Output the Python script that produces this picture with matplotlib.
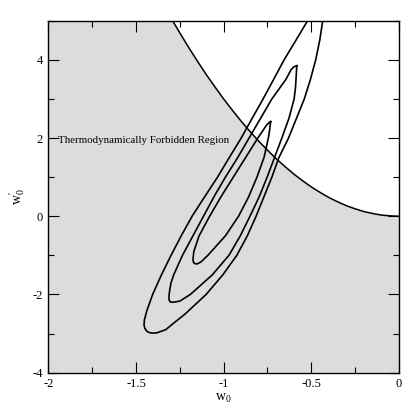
import numpy as np
import matplotlib
matplotlib.use('Agg')
import matplotlib.pyplot as plt
from matplotlib.ticker import MultipleLocator

# forbidden-region boundary
bound_x = [-1.35, -1.3, -1.25, -1.2, -1.15, -1.1, -1.05, -1.0, -0.95, -0.9, -0.85, -0.8, -0.75, -0.7,
           -0.65, -0.6, -0.55, -0.5, -0.45, -0.4, -0.35, -0.3, -0.25, -0.2, -0.15, -0.1, -0.05, 0.0]
bound_y = [5.47, 5.07, 4.69, 4.32, 3.97, 3.63, 3.31, 3.0, 2.71, 2.43, 2.17, 1.92, 1.69, 1.47,
           1.27, 1.08, 0.91, 0.75, 0.61, 0.48, 0.37, 0.27, 0.19, 0.12, 0.07, 0.03, 0.01, 0.0]

# confidence contours (closed)
outer_x = [-0.485, -0.521, -0.588, -0.655, -0.715, -0.775, -0.838, -0.900, -0.968, -1.035, -1.108,
           -1.180, -1.242, -1.300, -1.355, -1.405, -1.437, -1.452, -1.454, -1.450, -1.442, -1.432,
           -1.41, -1.38, -1.33, -1.287, -1.22, -1.10, -1.005, -0.925, -0.865, -0.815, -0.77,
           -0.725, -0.685, -0.63, -0.585, -0.54, -0.505, -0.475, -0.452, -0.435, -0.425]
outer_y = [5.3, 5.0, 4.5, 4.0, 3.5, 3.0, 2.5, 2.0, 1.5, 1.0, 0.5,
           0.0, -0.5, -1.0, -1.5, -2.0, -2.4, -2.65, -2.78, -2.86, -2.92, -2.96,
           -2.99, -2.98, -2.9, -2.74, -2.5, -2.0, -1.5, -1.0, -0.5, 0.0, 0.5,
           1.0, 1.5, 2.0, 2.5, 3.0, 3.5, 4.0, 4.5, 5.0, 5.3]

mid_x = [-0.583, -0.600, -0.615, -0.645, -0.725, -0.79, -0.855, -0.92, -0.99, -1.055, -1.115,
         -1.175, -1.235, -1.285, -1.300, -1.308, -1.312, -1.311, -1.305, -1.29, -1.25,
         -1.19, -1.065, -0.97, -0.905, -0.85, -0.797, -0.752, -0.71, -0.668, -0.628, -0.598,
         -0.590, -0.586, -0.583]
mid_y = [3.85, 3.82, 3.75, 3.5, 3.0, 2.5, 2.0, 1.5, 1.0, 0.5, 0.0,
         -0.5, -1.0, -1.5, -1.7, -1.9, -2.05, -2.14, -2.19, -2.2, -2.17,
         -2.0, -1.5, -1.0, -0.5, 0.0, 0.5, 1.0, 1.5, 2.0, 2.5, 3.0,
         3.3, 3.6, 3.85]

inner_x = [-0.732, -0.745, -0.76, -0.805, -0.875, -0.945, -1.015, -1.08, -1.14, -1.17, -1.175,
           -1.172, -1.165, -1.152, -1.13, -1.09, -0.99, -0.915, -0.857, -0.81, -0.77, -0.745,
           -0.738, -0.732]
inner_y = [2.42, 2.38, 2.3, 2.0, 1.5, 1.0, 0.5, 0.0, -0.5, -0.9, -1.1,
           -1.18, -1.21, -1.22, -1.17, -1.0, -0.5, 0.0, 0.5, 1.0, 1.5, 2.0,
           2.2, 2.42]

x_ticks = [-2, -1.5, -1, -0.5, 0]
x_labels = ['-2', '-1.5', '-1', '-0.5', '0']
y_ticks = [-4, -2, 0, 2, 4]
y_labels = ['-4', '-2', '0', '2', '4']

plt.rcParams['font.family'] = ['Liberation Serif', 'DejaVu Serif']
plt.rcParams['mathtext.fontset'] = 'custom'
plt.rcParams['mathtext.rm'] = 'Liberation Serif'
plt.rcParams['mathtext.it'] = 'Liberation Serif'

fig = plt.figure(figsize=(4.15, 4.15), dpi=100)
ax = fig.add_axes([0.1164, 0.102, 0.845, 0.848])

xmin, xmax, ymin, ymax = -2, 0, -4, 5

# shaded forbidden region: everything below the boundary curve
poly_x = [xmin, xmin] + bound_x + [xmax]
poly_y = [ymin, ymax + 1] + bound_y + [ymin]
ax.fill(poly_x, poly_y, color='#dcdcdc', lw=0, zorder=0)
ax.plot(bound_x, bound_y, color='black', lw=1.1, zorder=2)

for cx, cy in [(outer_x, outer_y), (mid_x, mid_y), (inner_x, inner_y)]:
    ax.plot(cx, cy, color='black', lw=1.2, zorder=3, solid_joinstyle='round')

ax.text(-1.945, 1.93, 'Thermodynamically Forbidden Region', fontsize=7.8, va='center', ha='left')

ax.set_xlim(xmin, xmax)
ax.set_ylim(ymin, ymax)
ax.set_xticks(x_ticks)
ax.set_xticklabels(x_labels)
ax.set_yticks(y_ticks)
ax.set_yticklabels(y_labels)
ax.xaxis.set_minor_locator(MultipleLocator(0.25))
ax.yaxis.set_minor_locator(MultipleLocator(1))
ax.tick_params(which='both', direction='in', top=True, right=True, labelsize=9, width=0.8)
ax.tick_params(which='major', length=8, pad=4)
ax.tick_params(which='minor', length=4)
for s in ax.spines.values():
    s.set_linewidth(1.0)

ax.set_xlabel(r'w$_0$', fontsize=10, labelpad=1)
ax.set_ylabel(r"w$_0^{\prime}$", fontsize=10, labelpad=4)

fig.savefig('out.png', dpi=100)
